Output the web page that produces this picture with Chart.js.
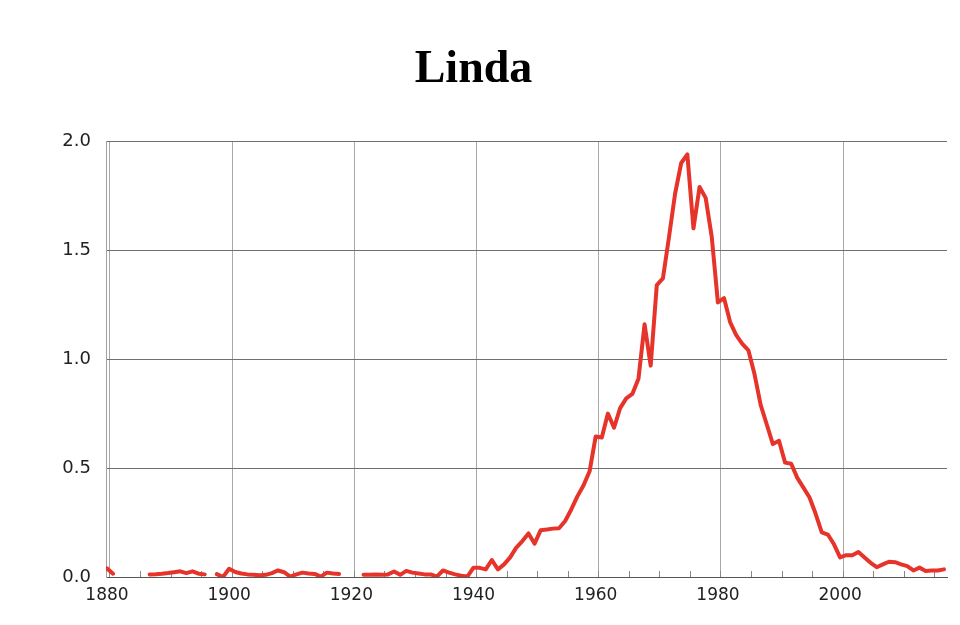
<!DOCTYPE html>
<html><head><meta charset="utf-8">
<script src="https://cdn.jsdelivr.net/npm/chart.js@4.4.0/dist/chart.umd.min.js"></script>
<style>html,body{margin:0;padding:0;background:#fff;} canvas{display:block;}</style>
</head><body>
<canvas id="c" width="960" height="625"></canvas>
<script>
const chartTitle = 'Linda';
const firstYear = 1880;
const values = [
  0.04, 0.015, null, null, null, null, null, 0.012, 0.013, 0.015,   // 1880-1889
  0.018, 0.022, 0.026, 0.018, 0.026, 0.015, 0.012, null, 0.013, 0.0, // 1890-1899
  0.038, 0.023, 0.016, 0.012, 0.01, 0.008, 0.01, 0.018, 0.03, 0.022,  // 1900-1909
  0.002, 0.012, 0.02, 0.016, 0.014, 0.002, 0.02, 0.016, 0.014, null,  // 1910-1919
  null, null, 0.01, 0.01, 0.012, 0.01, 0.012, 0.025, 0.01, 0.028,     // 1920-1929
  0.02, 0.016, 0.012, 0.012, 0.002, 0.03, 0.02, 0.012, 0.006, 0.002,  // 1930-1939
  0.043, 0.042, 0.035, 0.078, 0.035, 0.058, 0.09, 0.135, 0.165, 0.20, // 1940-1949
  0.153, 0.215, 0.218, 0.222, 0.224, 0.257, 0.31, 0.37, 0.42, 0.485,  // 1950-1959
  0.645, 0.64, 0.75, 0.685, 0.775, 0.82, 0.84, 0.91, 1.16, 0.97,      // 1960-1969
  1.34, 1.37, 1.56, 1.76, 1.90, 1.94, 1.60, 1.79, 1.74, 1.56,         // 1970-1979
  1.26, 1.28, 1.17, 1.11, 1.07, 1.04, 0.93, 0.79, 0.70, 0.61,         // 1980-1989
  0.625, 0.525, 0.52, 0.455, 0.41, 0.365, 0.29, 0.205, 0.195, 0.15,   // 1990-1999
  0.09, 0.10, 0.10, 0.115, 0.09, 0.065, 0.045, 0.058, 0.07, 0.068,    // 2000-2009
  0.058, 0.05, 0.03, 0.043, 0.028, 0.03, 0.03, 0.035                  // 2010-2017
];
const years = values.map((v, i) => firstYear + i);
const xLabelYears = [1880, 1900, 1920, 1940, 1960, 1980, 2000];
const xMinorTickYears = [1885, 1890, 1895, 1905, 1910, 1915, 1925, 1930, 1935, 1945, 1950, 1955,
                         1965, 1970, 1975, 1985, 1990, 1995, 2005, 2010, 2015];
const yTickValues = [0, 0.5, 1.0, 1.5, 2.0];

const points = years.map((yr, i) => ({ x: yr - 0.5, y: values[i] }));
const allXTicks = xLabelYears.concat(xMinorTickYears).sort((a, b) => a - b);

new Chart(document.getElementById('c'), {
  type: 'line',
  data: { datasets: [{
    data: points, borderColor: '#e6342a', borderWidth: 4, pointRadius: 0, tension: 0,
    spanGaps: false, borderJoinStyle: 'round', borderCapStyle: 'round', fill: false
  }]},
  options: {
    responsive: false, animation: false, devicePixelRatio: 1,
    layout: { padding: { left: 0, right: 13, top: 0, bottom: 0 } },
    plugins: {
      legend: { display: false }, tooltip: { enabled: false },
      title: { display: true, text: chartTitle, color: '#000',
        font: { family: '"Liberation Serif", "Times New Roman", serif', size: 46, weight: 'bold' },
        padding: { top: 43, bottom: 43 } }
    },
    scales: {
      x: {
        type: 'linear', min: 1879.35, max: 2017.0,
        afterBuildTicks: s => { s.ticks = allXTicks.map(v => ({ value: v })); },
        afterFit: s => { s.height = 48; },
        grid: {
          color: c => (c.tick && xLabelYears.includes(c.tick.value)) ? '#a8a8a8' : 'rgba(0,0,0,0)',
          lineWidth: 1, drawTicks: true, tickLength: -6, tickColor: '#888', tickWidth: 1
        },
        border: { display: true, color: '#555', width: 1 },
        ticks: {
          autoSkip: false, maxRotation: 0, minRotation: 0, padding: 14, labelOffset: -3, color: '#222',
          font: { family: '"DejaVu Sans", sans-serif', size: 17 },
          callback: v => xLabelYears.includes(v) ? String(v) : ''
        }
      },
      y: {
        min: 0, max: 2,
        afterBuildTicks: s => { s.ticks = yTickValues.map(v => ({ value: v })); },
        afterFit: s => { s.width = 106; },
        grid: { color: '#707070', lineWidth: 1, drawTicks: false },
        border: { display: true, color: '#a0a0a0', width: 1 },
        ticks: {
          padding: 15, color: '#222',
          font: { family: '"DejaVu Sans", sans-serif', size: 18 },
          callback: v => Number(v).toFixed(1)
        }
      }
    }
  }
});
</script></body></html>
